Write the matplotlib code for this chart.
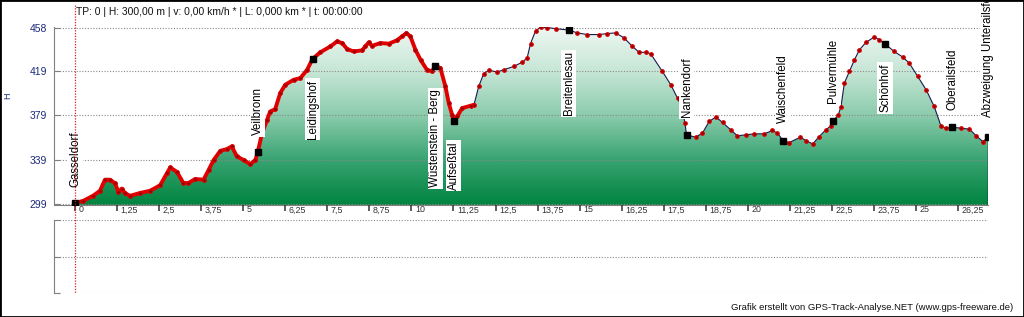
import numpy as np
import matplotlib.pyplot as plt
import matplotlib.transforms as mtransforms
from matplotlib.colors import LinearSegmentedColormap
from matplotlib.lines import Line2D
from matplotlib.patches import Rectangle

plt.rcParams['font.family'] = ['Liberation Sans', 'DejaVu Sans']

# track: distance (km) and height (m)
km = np.array([
    0.00, 0.25, 0.54, 0.74, 0.89, 1.04, 1.19, 1.29, 1.39, 1.49, 1.64, 1.93,
    2.23, 2.53, 2.73, 2.83, 3.03, 3.22, 3.37, 3.57, 3.82, 3.97, 4.12, 4.32,
    4.51, 4.66, 4.81, 5.01, 5.21, 5.36, 5.43, 5.56, 5.71, 5.80, 5.95, 6.10,
    6.25, 6.50, 6.70, 6.90, 7.06, 7.29, 7.59, 7.79, 7.94, 8.09, 8.28, 8.53,
    8.63, 8.73, 8.83, 9.08, 9.33, 9.57, 9.72, 9.85, 9.97, 10.12, 10.27, 10.46,
    10.61, 10.71, 10.86, 11.01, 11.11, 11.21, 11.26, 11.36, 11.51, 11.76, 11.86,
    12.00, 12.15, 12.30, 12.55, 12.75, 13.04, 13.29, 13.44, 13.54, 13.69, 13.84,
    14.04, 14.29, 14.68, 14.93, 15.23, 15.58, 15.82, 16.07, 16.32, 16.57, 16.77,
    16.96, 17.11, 17.46, 17.71, 17.91, 18.05, 18.13, 18.18, 18.45, 18.65, 18.85,
    19.05, 19.25, 19.49, 19.69, 19.94, 20.19, 20.49, 20.73, 20.88, 21.05, 21.23,
    21.56, 21.73, 21.93, 22.12, 22.32, 22.47, 22.54, 22.69, 22.77, 22.87, 23.02,
    23.17, 23.32, 23.51, 23.76, 23.91, 24.08, 24.35, 24.60, 24.80, 25.05, 25.30,
    25.54, 25.74, 25.89, 26.07, 26.34, 26.59, 26.79, 26.99, 27.14])
elev = np.array([
    300.0, 302.0, 306.6, 311.0, 321.0, 321.0, 317.7, 310.0, 313.0, 308.6, 306.5, 309.0,
    311.0, 316.0, 326.7, 332.0, 328.0, 318.0, 318.0, 321.6, 321.0, 329.7, 338.7, 347.0,
    348.5, 351.0, 342.0, 338.7, 335.0, 338.7, 345.7, 362.9, 374.9, 382.4, 384.5, 399.0,
    406.5, 411.0, 412.5, 420.0, 429.7, 435.7, 441.0, 445.5, 444.0, 438.6, 436.5, 437.4,
    441.0, 444.6, 441.6, 444.0, 443.5, 446.5, 450.0, 453.0, 450.0, 438.0, 429.0, 420.0,
    418.5, 423.6, 421.6, 405.0, 390.0, 379.4, 373.4, 378.0, 385.5, 387.6, 388.5,
    405.0, 416.5, 419.5, 418.0, 420.0, 423.0, 426.7, 430.6, 443.5, 455.0, 458.3,
    458.0, 457.0, 455.7, 453.2, 451.7, 451.7, 452.6, 453.2, 448.7, 441.0, 435.7,
    435.7, 434.5, 418.5, 406.5, 394.5, 385.5, 372.0, 361.3, 359.3, 362.9, 373.4,
    377.5, 372.5, 365.9, 360.5, 361.4, 362.3, 362.3, 365.3, 362.9, 356.2, 354.4,
    359.3, 356.2, 353.2, 359.8, 365.9, 369.5, 374.0, 379.4, 386.9, 408.0, 418.5,
    429.0, 438.0, 444.6, 449.5, 447.1, 443.2, 436.5, 431.5, 426.0, 414.0, 402.0,
    387.0, 369.5, 367.4, 368.3, 367.4, 366.5, 360.5, 355.3, 359.3])

places = ['Gasseldorf', 'Veilbronn', 'Leidingshof', 'Wüstenstein - Berg', 'Aufseßtal',
          'Breitenlesau', 'Nankendorf', 'Waischenfeld', 'Pulvermühle', 'Schönhof',
          'Oberailsfeld', 'Abzweigung Unterailsfeld']
place_km = [0.00, 5.43, 7.06, 10.71, 11.26, 14.68, 18.18, 21.05, 22.54, 24.08, 26.07, 27.14]
# height where each rotated name starts
label_bottom = [314, 361, 358, 314, 312, 379, 377, 372, 390, 382, 384, 377]

xticks = [0, 1.25, 2.5, 3.75, 5, 6.25, 7.5, 8.75, 10, 11.25, 12.5, 13.75, 15,
          16.25, 17.5, 18.75, 20, 21.25, 22.5, 23.75, 25, 26.25]
xtick_labels = ['0', '1,25', '2,5', '3,75', '5', '6,25', '7,5', '8,75', '10', '11,25',
                '12,5', '13,75', '15', '16,25', '17,5', '18,75', '20', '21,25', '22,5',
                '23,75', '25', '26,25']
yticks = [299, 339, 379, 419, 458]

navy = '#1c2a7a'
grid_kw = dict(color='#8a8a8a', linestyle=(0, (1, 1.5)), linewidth=0.8)

fig = plt.figure(figsize=(10.24, 3.17), dpi=100)
ax = fig.add_axes([54 / 1024, 1 - 205 / 317, 934 / 1024, 178 / 317])
ax2 = fig.add_axes([54 / 1024, 1 - 293 / 317, 934 / 1024, 73 / 317])

xmin, xmax = -0.625, km[-1]
ylo, yhi = 298.2, 458.5
ax.set_xlim(xmin, xmax)
ax.set_ylim(ylo, yhi)

# gradient fill under the profile
cmap = LinearSegmentedColormap.from_list(
    'hg', ['#00843f', '#37a371', '#8acbab', '#c6e6d6', '#eef7f2'])
grad = np.linspace(0, 1, 256).reshape(-1, 1)
im = ax.imshow(grad, extent=[xmin, xmax, ylo, yhi], origin='lower', aspect='auto',
               cmap=cmap, zorder=1)
poly = ax.fill_between(km, elev, ylo, facecolor='none', edgecolor='none')
im.set_clip_path(poly.get_paths()[0], transform=ax.transData)
ax.vlines(km[-1], ylo, elev[-1], color='black', lw=1, zorder=3)

ax.set_axisbelow(False)
ax.yaxis.grid(True, **grid_kw)

# track line and points
dense = km <= 11.9
ax.plot(km, elev, color='#1a1a50', lw=0.8, zorder=3)
ax.plot(km[dense], elev[dense], color='#e00000', lw=2.8, zorder=4,
        solid_joinstyle='round', solid_capstyle='round')
ax.plot(km, elev, 'o', ms=2.6, mfc='#8b0000', mec='#dd0000', mew=0.8, zorder=5)

idx = np.searchsorted(km, place_km)
ax.plot(km[idx], elev[idx], 's', ms=4.2, color='black', zorder=6)
for name, pk, lb in zip(places, place_km, label_bottom):
    ax.text(pk, lb, name, rotation=90, ha='center', va='bottom', fontsize=8.3,
            color='black', zorder=7,
            bbox=dict(facecolor='white', edgecolor='none', pad=1.2))

# axes styling
for s in ['top', 'right']:
    ax.spines[s].set_visible(False)
ax.spines['left'].set_color('#808080')
ax.spines['bottom'].set_color('#808080')
ax.set_yticks(yticks, [str(v) for v in yticks])
ax.tick_params(axis='y', direction='in', length=4, color='#808080',
               labelcolor=navy, labelsize=7.5, pad=5)
ax.set_xticks(xticks, xtick_labels)
ax.tick_params(axis='x', direction='out', length=4.6, width=1.1, color='#333333',
               labelcolor='#333333', labelsize=6.4, pad=-4.3)
shift = mtransforms.ScaledTranslation(2.5 / 72, 0, fig.dpi_scale_trans)
for lab in ax.get_xticklabels():
    lab.set_ha('left')
    lab.set_transform(lab.get_transform() + shift)

# empty lower panel
ax2.set_xlim(xmin, xmax)
ax2.set_ylim(0, 2)
ax2.set_yticks([0, 1, 2], [])
ax2.set_xticks([])
ax2.yaxis.grid(True, **grid_kw)
for s in ['top', 'right', 'bottom']:
    ax2.spines[s].set_visible(False)
ax2.spines['left'].set_color('#808080')
ax2.tick_params(axis='y', direction='in', length=4, color='#808080')

# cursor line at track point 0
trans = mtransforms.blended_transform_factory(ax.transData, fig.transFigure)
fig.add_artist(Line2D([0, 0], [1 - 5 / 317, 1 - 293 / 317], transform=trans,
                      color='#d02020', lw=0.9, linestyle=(0, (1, 1.2))))

fig.text(76 / 1024, 1 - 12 / 317,
         'TP: 0 | H: 300,00 m | v: 0,00 km/h * | L: 0,000 km * | t: 00:00:00',
         fontsize=7.4, va='center', ha='left', color='#111111')
fig.text(8 / 1024, 1 - 96 / 317, 'H', rotation=90, fontsize=6.5, color=navy,
         va='center', ha='center')
fig.text(1013 / 1024, 1 - 308 / 317,
         'Grafik erstellt von GPS-Track-Analyse.NET (www.gps-freeware.de)',
         fontsize=6.8, va='center', ha='right', color='#111111')

fig.add_artist(Rectangle((0, 0), 1, 1, transform=fig.transFigure, fill=False,
                         edgecolor='black', lw=2))

fig.savefig('out.png', dpi=100)
